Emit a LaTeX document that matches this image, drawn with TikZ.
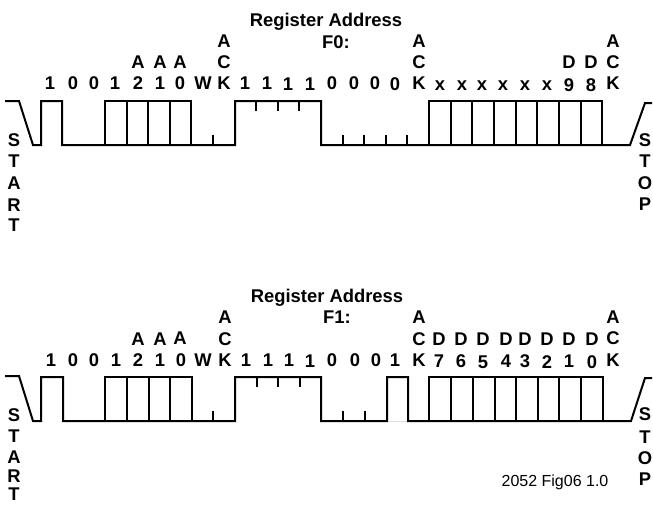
\documentclass[tikz,border=0pt]{standalone}
\usepackage{fontspec}
\setmainfont{Liberation Sans}
\tikzset{
  wave/.style={line width=2pt, line join=miter, black},
  tickmark/.style={line width=1.4pt, black},
  bitlabel/.style={font=\fontsize{18.4}{20}\bfseries\selectfont, anchor=base, inner sep=0pt},
  notelabel/.style={font=\fontsize{16}{18}\selectfont, anchor=base, inner sep=0pt}
}

\begin{document}
\begin{tikzpicture}[x=1pt, y=-1pt]
  \useasboundingbox (0,0) rectangle (653,504);

  % --- Upper waveform ---
  \draw[wave] (5,101) -- (19,101) -- (33,145) -- (41,145) -- (41,101) -- (62,101) -- (62,145)
    -- (235,145) -- (235,101) -- (321,101) -- (321,145) -- (630,145) -- (645,103) -- (652,103);
  \draw[wave] (105,145) -- (105,101) -- (191,101) -- (191,145);
  \foreach \x in {127,148,170} {
    \draw[wave] (\x,101) -- (\x,145);
  }
  \draw[wave] (429,145) -- (429,101) -- (602,101) -- (602,145);
  \foreach \x in {451,472,494,516,537,559,581} {
    \draw[wave] (\x,101) -- (\x,145);
  }
  \foreach \x in {213,343,364,386,407} {
    \draw[tickmark] (\x,145) -- (\x,135);
  }
  \foreach \x in {256,278,299} {
    \draw[tickmark] (\x,101) -- (\x,111);
  }

  % --- Lower waveform ---
  \draw[wave] (5,376) -- (19,376) -- (33,421) -- (41,421) -- (41,377) -- (63,377) -- (63,421)
    -- (235,421) -- (235,377) -- (321,377) -- (321,421) -- (387,421) -- (387,377) -- (408,377)
    -- (408,421) -- (631,421) -- (645,378) -- (652,378);
  \draw[gray!25, line width=1pt] (388,421.5) -- (407,421.5);
  \draw[wave] (105,421) -- (105,377) -- (192,377) -- (192,421);
  \foreach \x in {127,149,170} {
    \draw[wave] (\x,377) -- (\x,421);
  }
  \draw[wave] (429,421) -- (429,377) -- (603,377) -- (603,421);
  \foreach \x in {451,473,495,516,538,559,581} {
    \draw[wave] (\x,377) -- (\x,421);
  }
  \foreach \x in {213,343,365} {
    \draw[tickmark] (\x,421) -- (\x,411);
  }
  \foreach \x in {257,278,300} {
    \draw[tickmark] (\x,377) -- (\x,387);
  }

  % --- Upper labels ---
  \node[bitlabel] (regA) at (326,26) {Register Address};
  \node[bitlabel] (fzero) at (336,48) {F0:};
  \foreach \x/\y/\t in {50/89/1,73/89/0,94/89/0,115/89/1,138/89/2,160/89/1,180/89/0,203/89/W,224/89/K,
      245/89/1,267/89/1,288/90/1,310/90/1,332/89/0,354/89/0,375/89/0,395/90/0,419/89/K,
      440/90/x,462/90/x,482/90/x,503/90/x,525/90/x,547/90/x,569/91/9,591/91/8,613/89/K,
      138/68/A,160/68/A,180/68/A,224/68/C,419/68/C,569/68/D,591/68/D,613/68/C,
      224/47/A,419/47/A,613/47/A} {
    \node[bitlabel] (up\x-\y) at (\x,\y) {\t};
  }
  \foreach \y/\t in {146/S,167/T,189/A,211/R,231/T} {
    \node[bitlabel] (start\y) at (14,\y) {\t};
  }
  \foreach \y/\t in {146/S,167/T,189/O,210/P} {
    \node[bitlabel] (stop\y) at (645,\y) {\t};
  }

  % --- Lower labels ---
  \node[bitlabel] (regB) at (327,302) {Register Address};
  \node[bitlabel] (fone) at (337,323) {F1:};
  \foreach \x/\y/\t in {51/366/1,73/366/0,94/366/0,116/366/1,138/366/2,160/366/1,181/366/0,203/366/W,225/366/K,
      246/366/1,268/366/1,289/366/1,310/367/1,332/366/0,355/366/0,376/366/0,395/366/1,419/366/K,
      439/367/7,461/367/6,483/368/5,506/367/4,525/367/3,547/368/2,569/367/1,592/368/0,613/366/K,
      138/345/A,160/345/A,180/344/A,225/345/C,419/345/C,439/345/D,461/345/D,483/345/D,506/345/D,
      525/345/D,547/345/D,569/345/D,592/345/D,613/344/C,
      225/323/A,419/323/A,613/323/A} {
    \node[bitlabel] (lo\x-\y) at (\x,\y) {\t};
  }
  \foreach \y/\t in {421/S,442/T,463/A,482/R,500/T} {
    \node[bitlabel] (startb\y) at (14,\y) {\t};
  }
  \foreach \y/\t in {420/S,443/T,464/O,485/P} {
    \node[bitlabel] (stopb\y) at (645,\y) {\t};
  }
  \node[notelabel] (figtag) at (555,486) {2052 Fig06 1.0};

\end{tikzpicture}
\end{document}
